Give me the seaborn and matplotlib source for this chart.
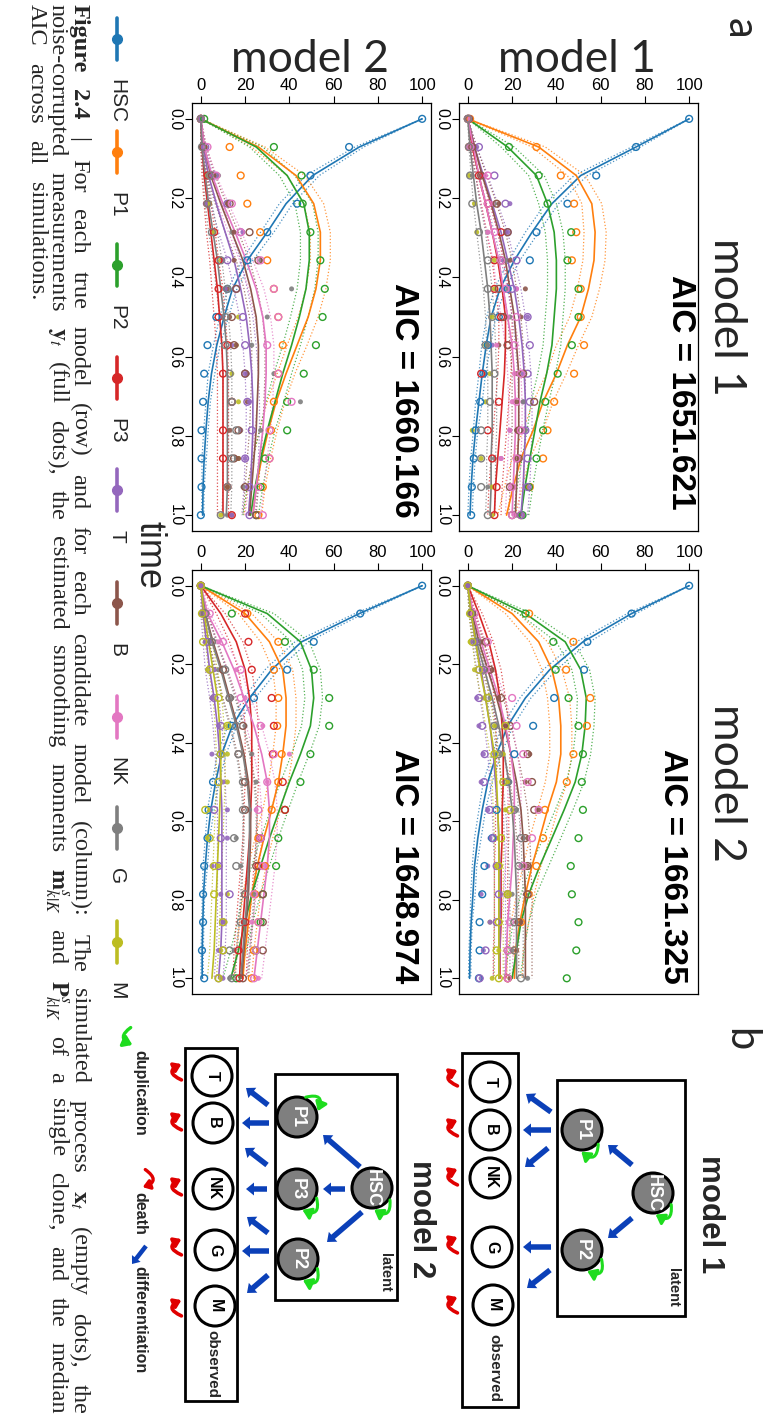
import numpy as np
import pandas as pd
import matplotlib
matplotlib.use("Agg")
import matplotlib.pyplot as plt
import seaborn as sns
from matplotlib.patches import Circle, Rectangle, FancyArrow, FancyArrowPatch

# ---------------------------------------------------------------- data
TYPES = ["HSC", "P1", "P2", "P3", "T", "B", "NK", "G", "M"]
COLORS = ["#1f77b4", "#ff7f0e", "#2ca02c", "#d62728", "#9467bd",
          "#8c564b", "#e377c2", "#7f7f7f", "#bcbd22"]
TIME = [0.0, 0.071, 0.143, 0.214, 0.286, 0.357, 0.429, 0.5, 0.571,
        0.643, 0.714, 0.786, 0.857, 0.929, 1.0]
VALUE_TICKS = [0, 20, 40, 60, 80, 100]
TIME_TICKS = [0.0, 0.2, 0.4, 0.6, 0.8, 1.0]

# true model 1 / candidate model 1  (top-right)
TR_MEAN = {
    "HSC": [100, 76, 51, 38, 29, 21, 14.5, 10.5, 8.3, 6.5, 5, 3.5, 2.3, 1.5, 1],
    "P1": [0, 32, 49, 56, 57.5, 57, 54.5, 51, 45, 40, 34, 29.5, 24, 20.5, 17.5],
    "P2": [0, 18, 31, 36, 39, 40, 40, 39, 38, 35.6, 32.6, 30.3, 28, 25.8, 24],
    "P3": [0, 2, 5, 8, 11, 13.5, 15.5, 17, 17, 16.5, 15.5, 14.5, 13.5, 12.5, 12],
    "T": [0, 3, 7, 11, 15, 18, 21, 23, 24.5, 25.5, 26, 26, 25.5, 25, 24],
    "B": [0, 3, 6.5, 10.5, 14, 17, 19, 21, 22, 23, 23, 23, 22.5, 22, 21.5],
    "NK": [0, 2.5, 5, 8, 11, 14, 16, 18, 20, 21, 21.5, 21.5, 21, 20.5, 20],
    "G": [0, 1, 2.5, 4, 6, 7.5, 9, 10, 10.5, 11, 11, 11, 10.5, 10.5, 10],
}
TR_SD = {
    "HSC": [0, 2, 3, 3, 3, 2.5, 2.5, 2, 2, 1.5, 1.5, 1, 1, 1, 1],
    "P1": [0, 3, 4, 4.5, 5, 5, 5, 5, 5, 4.5, 4.5, 4.5, 4, 4, 4],
    "P2": [0, 3, 3.5, 4, 4, 4, 4, 4, 4, 4, 4, 3.5, 3.5, 3.5, 3.5],
    "P3": [0, 1, 1.5, 2, 2.5, 2.5, 3, 3, 3, 3, 3, 3, 3, 3, 3],
    "T": [0, 1, 2, 2.5, 3, 3, 3, 3, 3, 3, 3, 3, 3, 3, 3],
    "B": [0, 1, 2, 2.5, 3, 3, 3, 3, 3, 3, 3, 3, 3, 3, 3],
    "NK": [0, 1, 1.5, 2, 2.5, 2.5, 3, 3, 3, 3, 3, 3, 3, 3, 3],
    "G": [0, 0.5, 1, 1.5, 2, 2, 2, 2, 2, 2, 2, 2, 2, 2, 2],
}
TR_OBS = {
    "HSC": [100, 76, 58, 45, 31, 28, 18, 14, 9, 7, 5.6, 3.5, 2.7, 1.8, 1.5],
    "P1": [1, 31, 42, 48, 49, 47, 51, 51, 52.5, 48, 39, 36, 34, 28, 24],
    "P2": [0, 18.6, 32, 36, 46.7, 45, 50, 50, 47, 40.6, 35, 34, 31, 27.6, 24.7],
    "P3": [0, 0.5, 5, 9, 15, 12, 12, 15, 18, 6, 14, 9, 11, 13, 12],
    "T": [0.5, 5, 12, 17, 18, 22, 20, 27, 28, 27, 28, 26, 27, 27, 24],
    "B": [0.5, 2, 6, 13, 18, 15, 14, 16, 18, 25, 30, 23, 23, 19, 20],
    "NK": [0, 1, 9, 9, 12, 15, 17, 22, 21, 24, 22, 24, 22, 20, 20],
    "G": [0, 0.5, 1, 2, 5, 9, 9, 11, 8, 12, 10, 6, 6, 6, 9],
}
TR_MEAS = {
    "M": [0, 0.5, 0.5, 3, 4, 12, 12, 11, 8, 10, 8, 2, 6, 11, 11],
    "B": [0.5, 2, 6, 14, 17, 19, 26, 24, 14, 22, 22, 22, 23, 21, 23],
    "T": [0, 4, 7, 19, 18, 16, 22, 27, 11, 25, 25, 19, 15, 27, 25],
    "G": [0, 0.5, 2, 12, 9, 17, 18, 19, 9, 8, 25, 26, 12, 9, 22],
    "NK": [0, 1, 8, 11, 9, 14, 22, 18, 13, 21, 20, 19, 15, 20, 21],
}

# true model 1 / candidate model 2  (bottom-right)
BR_MEAN = {
    "HSC": [100, 74, 52, 37, 26, 18, 13, 9, 6.5, 4.5, 3, 2.3, 1.5, 1, 0.8],
    "P1": [0, 20, 32, 38, 41, 42, 42, 40, 36, 32.5, 29, 26, 23.5, 21.5, 21],
    "P2": [0, 26, 44, 51, 53.5, 53, 51.5, 48.5, 43.5, 38, 32.5, 27.5, 24, 22, 20],
    "P3": [0, 5, 9.5, 12.5, 14.5, 15.5, 16, 16, 15.5, 15.5, 15, 15, 15, 14.5, 14.5],
    "T": [0, 1.5, 3.5, 6, 8, 10, 11.5, 12.5, 13.5, 14, 14.5, 14.5, 14.5, 14.5, 14],
    "B": [0, 2, 5, 9, 13, 16.5, 19.5, 22, 24, 25, 25.5, 26, 26, 26, 26],
    "NK": [0, 2.5, 6, 10, 14, 17, 19.5, 21, 21, 20.5, 20, 19, 18, 17.5, 17],
    "G": [0, 1.5, 4, 7.5, 11, 14, 16.5, 18.5, 20, 21, 21.5, 22, 22, 22, 22],
    "M": [0, 1.5, 3.5, 5.5, 8, 10, 12, 13, 13.5, 14, 14, 14, 14, 14, 14],
}
BR_SD = {
    "HSC": [0, 2, 3, 3, 2.5, 2.5, 2, 2, 1.5, 1.5, 1, 1, 0.5, 0.5, 0.5],
    "P1": [0, 3, 4, 4.5, 5, 5, 5, 5, 4.5, 4.5, 4, 4, 4, 3.5, 3.5],
    "P2": [0, 3, 4, 4, 4, 4, 4, 4, 4, 4, 4, 3.5, 3.5, 3.5, 3.5],
    "P3": [0, 1.5, 2, 2.5, 2.5, 3, 3, 3, 3, 3, 3, 3, 3, 3, 3],
    "T": [0, 1, 1.5, 2, 2.5, 2.5, 2.5, 2.5, 2.5, 2.5, 2.5, 2.5, 2.5, 2.5, 2.5],
    "B": [0, 1, 2, 2.5, 3, 3, 3, 3, 3, 3, 3, 3, 3, 3, 3],
    "NK": [0, 1, 2, 2.5, 3, 3, 3, 3, 3, 3, 3, 3, 3, 3, 3],
    "G": [0, 1, 1.5, 2, 2.5, 3, 3, 3, 3, 3, 3, 3, 3, 3, 3],
    "M": [0, 1, 1.5, 2, 2, 2, 2, 2, 2, 2, 2, 2, 2, 2, 2],
}
BR_OBS = {
    "HSC": [100, 74, 54, 52.5, 39, 29.5, 21, 18, 13, 11, 7.5, 6.5, 5.3, 5.3, 5],
    "P1": [0, 27.7, 47.7, 44.4, 55.3, 53.8, 47.7, 44.7, 34.8, 34, 31, 27.5, 24, 21, 18],
    "P2": [0, 26, 38.6, 39.7, 45.5, 50, 52, 51.5, 52, 50, 46.5, 47, 50, 49, 44.7],
    "T": [0, 1.5, 3, 5, 5, 6.5, 7.6, 7.3, 9.8, 11.4, 13, 14, 13, 8, 5.3],
    "B": [0, 2, 8, 10, 15, 19, 27, 29, 30, 26, 27, 27, 23, 18, 18],
    "NK": [0, 3, 9, 8, 20, 22, 25, 27, 32, 29, 25, 18, 19, 18, 18],
    "G": [0, 1.5, 4, 7, 9, 12, 14, 18, 21, 24, 23, 18, 21, 21, 24],
    "M": [0, 1, 2, 5, 9, 17, 12, 16, 19, 15, 14, 18, 14, 13, 14],
}
BR_MEAS = {
    "G": [0, 1, 3, 6, 10, 13, 15, 19, 22, 25, 24, 20, 22, 20, 27],
    "M": [0, 0.5, 1, 3, 7, 12, 16, 18, 17, 13, 13, 18, 10, 14, 11],
    "B": [0, 2, 6, 11, 14, 17, 28, 26, 32, 27, 27, 26, 24, 22, 19],
    "T": [0, 1, 3, 7, 4, 5, 7, 6, 9, 10, 9, 6, 10, 7, 6],
}

# true model 2 / candidate model 1  (top-left)
TL_MEAN = {
    "HSC": [100, 71.6, 50.5, 38.5, 30, 21, 14.3, 10.5, 7.2, 4.8, 3.3, 2.3, 1.5, 1, 0.8],
    "P1": [0, 26, 43, 51, 54, 54, 52, 48.5, 43.5, 38.5, 34, 30.5, 27.5, 25, 23.5],
    "P2": [0, 25, 39, 46.5, 49, 49, 47.5, 44.5, 41, 37, 33.5, 30, 27, 24.5, 22.5],
    "P3": [0, 0.5, 1.5, 3, 4.5, 6, 7.5, 8.5, 9.5, 10, 10, 10, 10, 10, 10],
    "T": [0, 1, 3.5, 7, 11, 15, 18, 20.5, 22, 23, 23.5, 23.5, 23, 22.5, 21.5],
    "B": [0, 1.5, 4.5, 9, 14, 19, 22.5, 25, 26, 26, 25.5, 25, 24, 23, 22],
    "NK": [0, 1.5, 5, 10, 15.5, 20.5, 25, 28, 29.5, 29.5, 29, 28, 26.5, 25, 23.5],
    "G": [0, 0.5, 2, 3.5, 5.5, 7.5, 9, 10.5, 11.5, 12, 12, 12, 12, 12, 11.5],
}
TL_SD = {
    "HSC": [0, 2, 3, 3, 3, 2.5, 2, 2, 1.5, 1.5, 1, 1, 1, 0.5, 0.5],
    "P1": [0, 3, 4, 4.5, 4.5, 4.5, 4.5, 4.5, 4.5, 4, 4, 4, 4, 4, 4],
    "P2": [0, 3, 3.5, 4, 4, 4, 4, 4, 4, 4, 4, 3.5, 3.5, 3.5, 3.5],
    "P3": [0, 0.5, 1, 1.5, 2, 2, 2.5, 2.5, 2.5, 2.5, 2.5, 2.5, 2.5, 2.5, 2.5],
    "T": [0, 1, 2, 2.5, 3, 3, 3, 3, 3, 3, 3, 3, 3, 3, 3],
    "B": [0, 1, 2, 2.5, 3, 3, 3, 3, 3, 3, 3, 3, 3, 3, 3],
    "NK": [0, 1, 2, 2.5, 3, 3, 3.5, 3.5, 3.5, 3.5, 3.5, 3.5, 3.5, 3.5, 3.5],
    "G": [0, 0.5, 1, 1.5, 2, 2, 2, 2, 2, 2, 2, 2, 2, 2, 2],
}
TL_OBS = {
    "HSC": [100, 67, 49.5, 43.5, 30, 21, 12, 7, 3, 1.5, 1, 0.3, 0.3, 0.3, 0],
    "P1": [0, 13, 18, 21, 26.8, 30, 33, 35, 37, 35, 33, 31.7, 31, 28, 26],
    "P2": [1.5, 33, 45.5, 46, 49.5, 54, 56, 55, 52, 46.5, 39, 39, 29, 27, 25],
    "P3": [0, 1, 3, 3, 6, 8, 8, 8, 12, 10, 14, 10, 10, 12, 14],
    "T": [0, 2, 6, 12, 18, 12, 16, 19, 20, 20, 21, 23, 20, 22, 22],
    "B": [0, 1, 5, 13, 22, 26, 16, 14, 15, 20, 14, 17, 15, 20, 25],
    "NK": [0, 3, 7, 14, 18, 27, 33, 35, 30, 35, 41, 31, 31, 26, 28],
    "G": [0, 0.5, 4, 3, 5, 9, 12, 11, 11, 13, 14, 16, 14, 12, 9],
}
TL_MEAS = {
    "G": [0, 1, 8, 3, 14, 27, 41, 30, 23, 33, 45, 27, 16, 19, 12],
    "M": [0, 0.5, 3, 4, 6, 9, 11, 17, 16, 14, 17, 18, 17, 12, 9],
    "B": [0, 2, 6, 12, 15, 15, 12, 13, 16, 21, 21, 13, 17, 12, 14],
    "T": [0, 1, 4, 2, 19, 10, 11, 9, 14, 20, 22, 18, 20, 21, 14],
}

# true model 2 / candidate model 2  (bottom-left)
BL_MEAN = {
    "HSC": [100, 71.6, 45.5, 32, 22, 14.2, 9.4, 6.7, 4.5, 3, 2, 1.2, 0.9, 0.6, 0.6],
    "P1": [0, 20, 31, 37, 38.5, 38.5, 37, 35, 32, 28.5, 25.5, 23, 21.5, 20, 19],
    "P2": [0, 30, 45, 50, 51, 49.5, 45, 40, 35.5, 31, 27, 23, 20, 17, 13.5],
    "P3": [0, 9, 16, 20, 22, 23, 23, 23, 22.5, 22, 21, 20, 19, 18, 17.5],
    "T": [0, 1, 2.5, 4, 6, 7.5, 8.5, 9, 9.5, 9.5, 9.5, 9.5, 9.5, 9, 8],
    "B": [0, 2, 5.5, 9.5, 13, 16.5, 19.5, 21.5, 22.5, 22.5, 22, 21.5, 20.5, 19.5, 18.5],
    "NK": [0, 3, 9.5, 15, 19.5, 24, 27.5, 30, 31, 31, 30, 28.5, 27, 25.5, 24],
    "G": [0, 2, 5, 9, 12.5, 16, 19, 21, 22, 22, 21.5, 21, 20, 19, 18],
    "M": [0, 1.5, 3.5, 5.5, 7.5, 8.5, 9, 9, 8.5, 8, 7.5, 7, 6.5, 6, 5],
}
BL_SD = {
    "HSC": [0, 2, 3, 3, 2.5, 2, 2, 1.5, 1.5, 1, 1, 0.5, 0.5, 0.5, 0.5],
    "P1": [0, 3, 4, 4.5, 4.5, 4.5, 4.5, 4.5, 4, 4, 4, 4, 4, 4, 4],
    "P2": [0, 3, 4, 4, 4, 4, 4, 4, 4, 4, 4, 4, 3.5, 3.5, 3.5],
    "P3": [0, 2, 3, 3, 3, 3, 3, 3, 3, 3, 3, 3, 3, 3, 3],
    "T": [0, 1, 1.5, 2, 2, 2, 2, 2, 2, 2, 2, 2, 2, 2, 2],
    "B": [0, 1, 2, 2.5, 3, 3, 3, 3, 3, 3, 3, 3, 3, 3, 3],
    "NK": [0, 1, 2, 3, 3, 3.5, 3.5, 3.5, 3.5, 3.5, 3.5, 3.5, 3.5, 3.5, 3.5],
    "G": [0, 1, 2, 2.5, 3, 3, 3, 3, 3, 3, 3, 3, 3, 3, 3],
    "M": [0, 1, 1.5, 2, 2, 2, 2, 2, 2, 2, 2, 2, 2, 2, 2],
}
BL_OBS = {
    "HSC": [100, 72, 51, 39, 24, 14, 9, 5.5, 3.5, 3, 1.5, 1, 1, 0.5, 1.5],
    "P1": [0, 21, 35, 33, 35, 34.5, 36.5, 35, 32, 26, 29, 24.5, 26, 24, 23],
    "P2": [0, 14, 38, 51, 58, 58, 49.5, 45, 38, 35, 34, 28, 27, 25, 16],
    "P3": [0, 20, 21.5, 23, 32, 33, 32.5, 37, 38, 27, 26, 20, 20, 17, 17.5],
    "T": [0, 1, 3, 4, 6, 9, 9, 8, 6, 9, 8, 13, 10, 10, 8],
    "B": [0, 2, 5, 10, 13, 19, 17, 20, 20, 27, 25, 28, 28, 28, 19],
    "NK": [0, 4, 10, 18, 18, 27, 33, 30, 26, 27, 28, 24, 26, 25, 24],
    "G": [0, 2, 5, 11, 13, 16, 17, 19, 19, 15, 16, 20, 18, 13, 14],
    "M": [0, 0.5, 1, 4, 8, 12, 9, 8, 2, 4, 6, 6, 10, 10, 8],
}
BL_MEAS = {
    "G": [0, 1, 4, 8, 14, 20, 23, 25, 22, 16, 18, 24, 19, 15, 13],
    "M": [0, 0.5, 2, 3, 5, 12, 12, 12, 4, 3, 8, 12, 11, 9, 9],
    "NK": [0, 3, 8, 16, 20, 28, 40, 30, 25, 26, 29, 26, 23, 26, 26],
    "T": [0, 1, 2, 6, 5, 8, 5, 10, 12, 12, 5, 9, 10, 8, 10],
}

AIC_LABELS = {"TR": "AIC = 1651.621", "BR": "AIC = 1661.325",
              "TL": "AIC = 1660.166", "BL": "AIC = 1648.974"}
MODEL_LABELS = ["model 1", "model 2"]

CAPTION_1 = [("Figure", "bold"), ("2.4", "bold")] + [(w, "normal") for w in (
    "| For each true model (row) and for each candidate model (column): "
    "The simulated process $\\mathbf{x}_t$ (empty dots), the").split()]
CAPTION_2 = [(w, "normal") for w in (
    "noise-corrupted measurements $\\mathbf{y}_t$ (full dots), the estimated "
    "smoothing moments $\\mathbf{m}^{s}_{k|K}$ and $\\mathbf{P}^{s}_{k|K}$ "
    "of a single clone, and the median").split()]
CAPTION_3 = [(w, "normal") for w in "AIC across all simulations.".split()]

# ---------------------------------------------------------------- style
sns.set_theme(style="ticks")
plt.rcParams["font.family"] = ["Liberation Sans", "DejaVu Sans"]
plt.rcParams["mathtext.fontset"] = "stix"
PAL = dict(zip(TYPES, COLORS))

W, H = 766, 1419
fig = plt.figure(figsize=(W / 100, H / 100), dpi=100)

ov = fig.add_axes([0, 0, 1, 1])
ov.set_xlim(0, W)
ov.set_ylim(H, 0)
ov.axis("off")


def long_df(d):
    rows = []
    for k, vals in d.items():
        for t, v in zip(TIME, vals):
            rows.append((k, t, v))
    return pd.DataFrame(rows, columns=["type", "time", "value"])


def band_df(mean, sd):
    rows = []
    for k in mean:
        for t, m, s in zip(TIME, mean[k], sd[k]):
            rows.append((k, t, m + s, "up"))
            rows.append((k, t, max(m - s, 0), "lo"))
    return pd.DataFrame(rows, columns=["type", "time", "value", "side"])


PANELS = [
    ("TR", [459 / W, 1 - 531 / H, 239 / W, 428 / H], TR_MEAN, TR_SD, TR_OBS, TR_MEAS, (0.925, 0.325)),
    ("BR", [459 / W, 1 - 994 / H, 239 / W, 424 / H], BR_MEAN, BR_SD, BR_OBS, BR_MEAS, (0.895, 0.300)),
    ("TL", [192 / W, 1 - 531 / H, 239 / W, 428 / H], TL_MEAN, TL_SD, TL_OBS, TL_MEAS, (0.885, 0.306)),
    ("BL", [192 / W, 1 - 994 / H, 239 / W, 424 / H], BL_MEAN, BL_SD, BL_OBS, BL_MEAS, (0.887, 0.302)),
]

for key, rect, mean, sd, obs, meas, apos in PANELS:
    ax = fig.add_axes(rect)
    sns.lineplot(data=band_df(mean, sd), x="value", y="time", hue="type",
                 units="side", estimator=None, palette=PAL, orient="y",
                 legend=False, lw=0.9, linestyle=":", alpha=0.8, ax=ax)
    sns.lineplot(data=long_df(mean), x="value", y="time", hue="type",
                 estimator=None, palette=PAL, orient="y", legend=False,
                 lw=1.2, ax=ax)
    sns.scatterplot(data=long_df(meas), x="value", y="time", hue="type",
                    palette=PAL, s=13, linewidth=0, alpha=0.9, legend=False,
                    ax=ax, zorder=3)
    sns.scatterplot(data=long_df(obs), x="value", y="time", hue="type",
                    palette=PAL, s=24, legend=False, ax=ax, zorder=4)
    coll = ax.collections[-1]
    fc = coll.get_facecolors()
    coll.set_edgecolors(fc)
    coll.set_facecolors("none")
    coll.set_linewidths(1.0)

    ax.set_xlim(-4, 104)
    ax.set_ylim(1.04, -0.04)
    ax.xaxis.tick_top()
    ax.set_xticks(VALUE_TICKS)
    ax.set_xticklabels([str(v) for v in VALUE_TICKS], fontsize=12)
    ax.set_yticks(TIME_TICKS)
    ax.set_yticklabels(["%.1f" % t for t in TIME_TICKS], fontsize=11.5,
                       rotation=-90, va="center")
    ax.tick_params(axis="both", length=5, width=0.8, direction="out",
                   pad=2, colors="black")
    ax.set_xlabel("")
    ax.set_ylabel("")
    for sp in ax.spines.values():
        sp.set_visible(True)
        sp.set_color("black")
        sp.set_linewidth(0.9)
    ax.set_facecolor("white")
    ax.text(apos[0], apos[1], AIC_LABELS[key], transform=ax.transAxes,
            rotation=-90, ha="center", va="center", fontsize=24,
            weight="bold", color="black")

# ---------------------------------------------------------------- headers
ov.text(740, 28, "a", rotation=-90, ha="center", va="center", fontsize=30, family="Lato")
ov.text(740, 1040, "b", rotation=-90, ha="center", va="center", fontsize=30, family="Lato")
ov.text(727, 317, MODEL_LABELS[0], rotation=-90, ha="center", va="center", fontsize=32, family="Lato")
ov.text(727, 783, MODEL_LABELS[1], rotation=-90, ha="center", va="center", fontsize=32, family="Lato")
ov.text(577, 72, MODEL_LABELS[0], ha="center", va="baseline", fontsize=32, family="Lato")
ov.text(310, 72, MODEL_LABELS[1], ha="center", va="baseline", fontsize=32, family="Lato")
ov.text(149, 555, "time", rotation=-90, ha="center", va="center", fontsize=26)

# legend
LEG_Y = [39, 152, 265, 378, 490, 603, 717, 828, 942]
for name, col, y in zip(TYPES, COLORS, LEG_Y):
    ov.plot([117, 117], [y - 21, y + 21], color=col, lw=2.6, solid_capstyle="round")
    ov.plot([117], [y], "o", color=col, ms=7)
    ov.text(117, y + 40, name, rotation=-90, ha="center", va="top", fontsize=15)

# ---------------------------------------------------------------- panel b
BLUE = "#0b40b8"
GREEN = "#1edc1e"
RED = "#e00000"


def node(x, y, label, latent):
    ov.add_patch(Circle((x, y), 20, fc="#7f7f7f" if latent else "white",
                        ec="black", lw=2.2, zorder=5))
    ov.text(x, y, label, rotation=-90, ha="center", va="center",
            color="white" if latent else "black",
            fontsize=13 if latent else 11.5, weight="bold", zorder=6)


def diff_arrow(x0, y0, x1, y1):
    ov.add_patch(FancyArrow(x0, y0, x1 - x0, y1 - y0, width=5.5,
                            head_width=13, head_length=8,
                            length_includes_head=True, color=BLUE, lw=0,
                            zorder=4))


def curved(p0, p1, away, color, rad=1.3, lw=2.2, head=0.5):
    a = ov.transData.transform(p0)
    b = ov.transData.transform(p1)
    c = ov.transData.transform(away)
    mid = (a + b) / 2
    d = b - a
    ctrl = mid + rad * np.array([d[1], -d[0]])
    if np.hypot(*(ctrl - c)) < np.hypot(*(mid - c)):
        rad = -rad
    ov.add_patch(FancyArrowPatch(
        p0, p1, connectionstyle="arc3,rad=%g" % rad,
        arrowstyle="-|>,head_length=%g,head_width=%g" % (head, head * 0.7),
        mutation_scale=10, color=color, lw=lw, zorder=6))


def self_loop(cx, cy, dx, dy):
    phi = np.arctan2(dy, dx)
    r = 20
    p0 = (cx + r * np.cos(phi - 0.55), cy + r * np.sin(phi - 0.55))
    p1 = (cx + r * np.cos(phi + 0.55), cy + r * np.sin(phi + 0.55))
    curved(p0, p1, (cx, cy), GREEN, rad=1.1)


def death(x, y):
    curved((x + 9, y + 9), (x + 9, y - 9), (x + 30, y), RED, rad=1.25,
           lw=2.6, head=0.4)


# model 1 diagram
ov.add_patch(Rectangle((557, 1080), 128, 236, fill=False, ec="black", lw=2))
ov.add_patch(Rectangle((462, 1053), 56, 354, fill=False, ec="black", lw=2))
for lab, x, y in [("HSC", 653, 1193), ("P1", 582, 1130), ("P2", 582, 1250)]:
    node(x, y, lab, True)
for lab, x, y in [("T", 490, 1082), ("B", 490, 1130), ("NK", 490, 1178),
                  ("G", 492, 1247), ("M", 493, 1305)]:
    node(x, y, lab, False)
for a in [(632, 1165, 608, 1145), (632, 1218, 608, 1238),
          (551, 1112, 526, 1094), (551, 1130, 523, 1130),
          (548, 1148, 525, 1167), (551, 1247, 523, 1247),
          (550, 1270, 527, 1288)]:
    diff_arrow(*a)
self_loop(653, 1193, 17, 27)
self_loop(582, 1130, 13, 30)
self_loop(582, 1250, 18, 22)
for y in [1078, 1128, 1177, 1245, 1305]:
    death(451, y)
ov.text(673, 1287, "latent", rotation=-90, ha="center", va="center", fontsize=10.5, weight="bold")
ov.text(494, 1368, "observed", rotation=-90, ha="center", va="center", fontsize=11, weight="bold")
ov.text(710, 1214, MODEL_LABELS[0], rotation=-90, ha="center", va="center", fontsize=22.5, weight="bold")

# model 2 diagram
ov.add_patch(Rectangle((275, 1074), 122, 226, fill=False, ec="black", lw=2))
ov.add_patch(Rectangle((185, 1048), 52, 353, fill=False, ec="black", lw=2))
for lab, x, y in [("HSC", 372, 1188), ("P1", 297, 1117), ("P3", 297, 1189),
                  ("P2", 298, 1259)]:
    node(x, y, lab, True)
for lab, x, y in [("T", 212, 1076), ("B", 213, 1123), ("NK", 213, 1189),
                  ("G", 215, 1250), ("M", 215, 1306)]:
    node(x, y, lab, False)
for a in [(360, 1167, 323, 1135), (345, 1189, 323, 1189),
          (362, 1212, 327, 1242), (268, 1105, 246, 1088),
          (269, 1123, 242, 1123), (267, 1165, 245, 1148),
          (267, 1189, 246, 1189), (268, 1233, 247, 1217),
          (269, 1251, 242, 1251), (268, 1275, 247, 1293)]:
    diff_arrow(*a)
self_loop(297, 1117, 23, -20)
self_loop(297, 1189, 20, 24)
self_loop(372, 1188, 15, 25)
self_loop(298, 1259, 19, 24)
for y in [1072, 1122, 1187, 1247, 1308]:
    death(175, y)
ov.text(385, 1272, "latent", rotation=-90, ha="center", va="center", fontsize=10.5, weight="bold")
ov.text(212, 1364, "observed", rotation=-90, ha="center", va="center", fontsize=11, weight="bold")
ov.text(421, 1219, MODEL_LABELS[1], rotation=-90, ha="center", va="center", fontsize=22.5, weight="bold")

# legend of panel b
curved((133, 1026), (135, 1046), (150, 1036), GREEN, rad=1.0, lw=2.4)
ov.text(140, 1050, "duplication", rotation=-90, ha="center", va="top", fontsize=11.5, weight="bold")
curved((143, 1168), (140, 1188), (125, 1178), RED, rad=1.1, lw=2.4, head=0.4)
ov.text(140, 1192, "death", rotation=-90, ha="center", va="top", fontsize=11.5, weight="bold")
ov.add_patch(FancyArrow(146, 1246, -14, 18, width=4.5, head_width=11,
                        head_length=7, length_includes_head=True,
                        color=BLUE, lw=0))
ov.text(140, 1266, "differentiation", rotation=-90, ha="center", va="top", fontsize=11.5, weight="bold")

# ---------------------------------------------------------------- caption
renderer = fig.canvas.get_renderer()
CAP_FS = 17.5


def caption_line(words, x, y0, y1):
    widths = []
    for w, wt in words:
        t = ov.text(0, 0, w, fontsize=CAP_FS, family="Liberation Serif", weight=wt)
        widths.append(t.get_window_extent(renderer=renderer).width)
        t.remove()
    gap = (y1 - y0 - sum(widths)) / max(len(words) - 1, 1)
    gap = max(gap, 3)
    pos = y0
    for (w, wt), wd in zip(words, widths):
        ov.text(x, pos, w, rotation=-90, ha="center", va="top",
                fontsize=CAP_FS, family="Liberation Serif", weight=wt)
        pos += wd + gap


caption_line(CAPTION_1, 79, 4, 1414)
caption_line(CAPTION_2, 57, 4, 1414)
caption_line(CAPTION_3, 36, 4, 300)

fig.savefig("out.png", dpi=100)
